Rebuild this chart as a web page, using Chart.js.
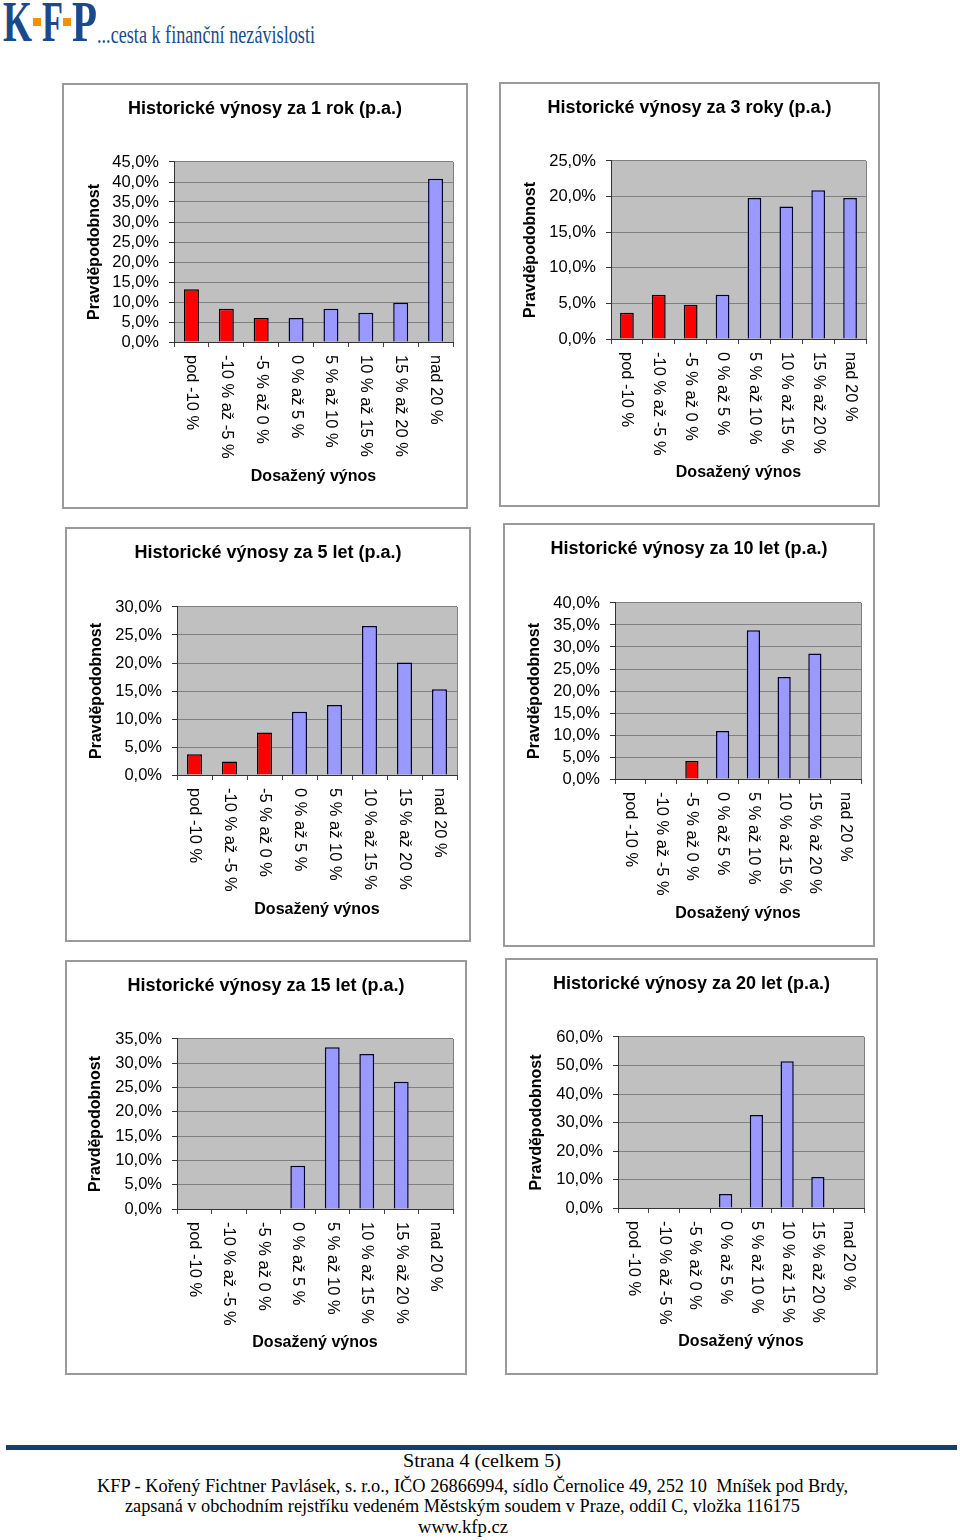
<!DOCTYPE html>
<html lang="cs">
<head>
<meta charset="utf-8">
<title>Historické výnosy</title>
<script src="https://cdn.jsdelivr.net/npm/chart.js@4.4.0/dist/chart.umd.min.js"></script>
<style>
    body { margin: 0; width: 960px; height: 1540px; background: #fff; position: relative; overflow: hidden; }
    .panel { position: absolute; outline: 2px solid #9a9a9a; background: #fff; }
    .panel canvas { display: block; }
    .pismeno { position: absolute; font-family: "Liberation Serif", "Times New Roman", serif; font-weight: bold; font-size: 58px; line-height: 58px; color: #1b4a8a; transform-origin: left top; white-space: nowrap; }
    .tecka { position: absolute; width: 8px; height: 8px; background: #f39200; }
    .motto { position: absolute; font-family: "Liberation Serif", "Times New Roman", serif; font-size: 25px; line-height: 25px; color: #1b4a8a; transform-origin: left top; white-space: nowrap; }
    .paticka { position: absolute; font-family: "Liberation Serif", "Times New Roman", serif; font-size: 19px; line-height: 20px; color: #000; transform-origin: left top; white-space: nowrap; }
    #cara { position: absolute; left: 6px; top: 1445px; width: 951px; height: 5px; background: #1b3d6e; }
</style>
</head>
<body>
<!-- hlavička s logem -->
<span class="pismeno" id="l-k" style="left:3px; top:-7px;">K</span>
<span class="pismeno" id="l-f" style="left:42px; top:-7px;">F</span>
<span class="pismeno" id="l-p" style="left:72px; top:-7px;">P</span>
<div class="tecka" style="left:33px; top:18px;"></div>
<div class="tecka" style="left:63px; top:18px;"></div>
<span class="motto" id="motto" style="left:97px; top:22px;">...cesta k finanční nezávislosti</span>

<div class="panel" id="p0"><canvas id="c0"></canvas></div>
<div class="panel" id="p1"><canvas id="c1"></canvas></div>
<div class="panel" id="p2"><canvas id="c2"></canvas></div>
<div class="panel" id="p3"><canvas id="c3"></canvas></div>
<div class="panel" id="p4"><canvas id="c4"></canvas></div>
<div class="panel" id="p5"><canvas id="c5"></canvas></div>

<!-- patička -->
<div id="cara"></div>
<span class="paticka" id="f1" style="left:403px; top:1451px;">Strana 4 (celkem 5)</span>
<span class="paticka" id="f2" style="left:97px; top:1476px;">KFP - Kořený Fichtner Pavlásek, s. r.o., IČO 26866994, sídlo Černolice 49, 252 10&nbsp; Mníšek pod Brdy,</span>
<span class="paticka" id="f3" style="left:125px; top:1496px;">zapsaná v obchodním rejstříku vedeném Městským soudem v Praze, oddíl C, vložka 116175</span>
<span class="paticka" id="f4" style="left:418px; top:1517px;">www.kfp.cz</span>

<script>
// Data grafů
const kategorie = ['pod -10 %', '-10 % až -5 %', '-5 % až 0 %', '0 % až 5 %', '5 % až 10 %', '10 % až 15 %', '15 % až 20 %', 'nad 20 %'];
const vynosy1rok = [13.2, 8.3, 6.0, 6.0, 8.3, 7.3, 9.8, 40.8];
const vynosy3roky = [3.7, 6.2, 4.8, 6.2, 19.8, 18.6, 20.9, 19.8];
const vynosy5let = [3.7, 2.4, 7.6, 11.3, 12.5, 26.6, 20.1, 15.3];
const vynosy10let = [0, 0, 4.1, 10.9, 33.8, 23.2, 28.5, 0];
const vynosy15let = [0, 0, 0, 8.9, 33.3, 31.9, 26.2, 0];
const vynosy20let = [0, 0, 0, 4.9, 32.6, 51.5, 10.9, 0];
const nazvy = [
    'Historické výnosy za 1 rok (p.a.)',
    'Historické výnosy za 3 roky (p.a.)',
    'Historické výnosy za 5 let (p.a.)',
    'Historické výnosy za 10 let (p.a.)',
    'Historické výnosy za 15 let (p.a.)',
    'Historické výnosy za 20 let (p.a.)'
];
const maximaOsy = [45, 25, 30, 40, 35, 60];
const krokyOsy = [5, 5, 5, 5, 5, 10];
const rady = [vynosy1rok, vynosy3roky, vynosy5let, vynosy10let, vynosy15let, vynosy20let];

// Rozmístění panelů na stránce (box, plocha grafu, pozice popisků)
const panely = [
    { box: [64, 85, 402, 422], plot: [174, 162, 453, 342], titulek: 109, osaY: 95, osaX: 477 },
    { box: [501, 84, 377, 421], plot: [611, 161, 866, 339], titulek: 108, osaY: 531, osaX: 473 },
    { box: [67, 529, 402, 411], plot: [177, 607, 457, 775], titulek: 553, osaY: 97, osaX: 910 },
    { box: [505, 525, 368, 420], plot: [615, 603, 861, 779], titulek: 549, osaY: 535, osaX: 914 },
    { box: [67, 962, 398, 411], plot: [177, 1039, 453, 1209], titulek: 986, osaY: 96, osaX: 1343 },
    { box: [507, 960, 369, 413], plot: [618, 1037, 864, 1208], titulek: 984, osaY: 537, osaX: 1342 }
];

const PISMO = '"Liberation Sans", Arial, sans-serif';
const CERVENA = '#ff0000';
const MODRA = '#9999ff';
const zapornePasma = 3; // první tři pásma jsou záporné výnosy

// Šedé pozadí plochy grafu
const pozadiGrafu = {
    id: 'pozadiGrafu',
    beforeDraw(chart) {
        const a = chart.chartArea;
        const ctx = chart.ctx;
        ctx.save();
        ctx.fillStyle = '#c0c0c0';
        ctx.fillRect(a.left, a.top, a.right - a.left, a.bottom - a.top);
        ctx.strokeStyle = '#808080';
        ctx.lineWidth = 1;
        ctx.beginPath();
        ctx.moveTo(Math.round(a.right) + 0.5, a.top);
        ctx.lineTo(Math.round(a.right) + 0.5, a.bottom);
        ctx.stroke();
        ctx.restore();
    }
};

// Popisky kategorií otočené po směru hodinových ručiček
const svislePopisky = {
    id: 'svislePopisky',
    afterDraw(chart) {
        const x = chart.scales.x;
        const ctx = chart.ctx;
        ctx.save();
        ctx.font = '16.5px ' + PISMO;
        ctx.fillStyle = '#000';
        ctx.textAlign = 'left';
        ctx.textBaseline = 'middle';
        chart.data.labels.forEach(function(text, i) {
            ctx.save();
            ctx.translate(x.getPixelForValue(i), chart.chartArea.bottom + 13);
            ctx.rotate(Math.PI / 2);
            ctx.fillText(text, 0, 0);
            ctx.restore();
        });
        ctx.restore();
    }
};

function vytvorGraf(i) {
    const g = panely[i];
    const [px, py, w, h] = g.box;
    const l = g.plot[0] - px, t = g.plot[1] - py, r = g.plot[2] - px, b = g.plot[3] - py;
    const okraj = w - r; // stejný okraj vlevo i vpravo, aby byl titulek uprostřed panelu

    const div = document.getElementById('p' + i);
    div.style.left = px + 'px';
    div.style.top = py + 'px';
    div.style.width = w + 'px';
    div.style.height = h + 'px';
    const canvas = document.getElementById('c' + i);
    canvas.width = w;
    canvas.height = h;

    const titulekNahore = g.titulek - py - 10.8;

    new Chart(canvas, {
        type: 'bar',
        data: {
            labels: kategorie,
            datasets: [{
                data: rady[i],
                backgroundColor: kategorie.map((k, j) => j < zapornePasma ? CERVENA : MODRA),
                borderColor: kategorie.map((k, j) => j < zapornePasma ? '#000000' : '#000033'),
                borderWidth: 1.5,
                barPercentage: 0.43,
                categoryPercentage: 1
            }]
        },
        options: {
            responsive: false,
            animation: false,
            layout: { padding: { left: okraj, top: 0, bottom: 0, right: okraj } },
            plugins: {
                legend: { display: false },
                tooltip: { enabled: false },
                title: {
                    display: true,
                    text: nazvy[i],
                    color: '#000',
                    font: { family: PISMO, size: 18, weight: 'bold', lineHeight: 1.2 },
                    padding: { top: titulekNahore, bottom: t - titulekNahore - 21.6 }
                }
            },
            scales: {
                x: {
                    afterFit: function(s) { s.height = h - b; },
                    ticks: { display: false },
                    grid: { display: true, drawOnChartArea: false, drawTicks: true, tickLength: 5, color: '#444' },
                    border: { display: true, color: '#333', width: 1 },
                    title: {
                        display: true,
                        text: 'Dosažený výnos',
                        color: '#000',
                        font: { family: PISMO, size: 16, weight: 'bold', lineHeight: 1.2 },
                        padding: { top: 0, bottom: h - (g.osaX - py) - 9.6 }
                    }
                },
                y: {
                    min: 0,
                    max: maximaOsy[i],
                    afterFit: function(s) { s.width = l - okraj; },
                    ticks: {
                        stepSize: krokyOsy[i],
                        autoSkip: false,
                        color: '#000',
                        padding: 10,
                        font: { family: PISMO, size: 16.5 },
                        callback: v => v.toFixed(1).replace('.', ',') + '%'
                    },
                    grid: { color: '#808080', tickColor: '#333', drawTicks: true, tickLength: 5, lineWidth: 1 },
                    border: { display: true, color: '#333', width: 1 },
                    title: {
                        display: true,
                        text: 'Pravděpodobnost',
                        color: '#000',
                        font: { family: PISMO, size: 16, weight: 'bold', lineHeight: 1.2 },
                        padding: { top: g.osaY - px - okraj - 9.6, bottom: 0 }
                    }
                }
            }
        },
        plugins: [pozadiGrafu, svislePopisky]
    });
}

for (let i = 0; i < panely.length; i++) {
    vytvorGraf(i);
}

// Zúžení textu loga a patičky na šířku podle předlohy
function prizpusobSirku(id, sirka) {
    const el = document.getElementById(id);
    const w = el.getBoundingClientRect().width;
    el.style.transform = 'scaleX(' + (sirka / w) + ')';
}
prizpusobSirku('l-k', 29);
prizpusobSirku('l-f', 21);
prizpusobSirku('l-p', 25);
prizpusobSirku('motto', 218);
prizpusobSirku('f1', 158);
prizpusobSirku('f2', 751);
prizpusobSirku('f3', 675);
prizpusobSirku('f4', 90);
</script>
</body>
</html>
